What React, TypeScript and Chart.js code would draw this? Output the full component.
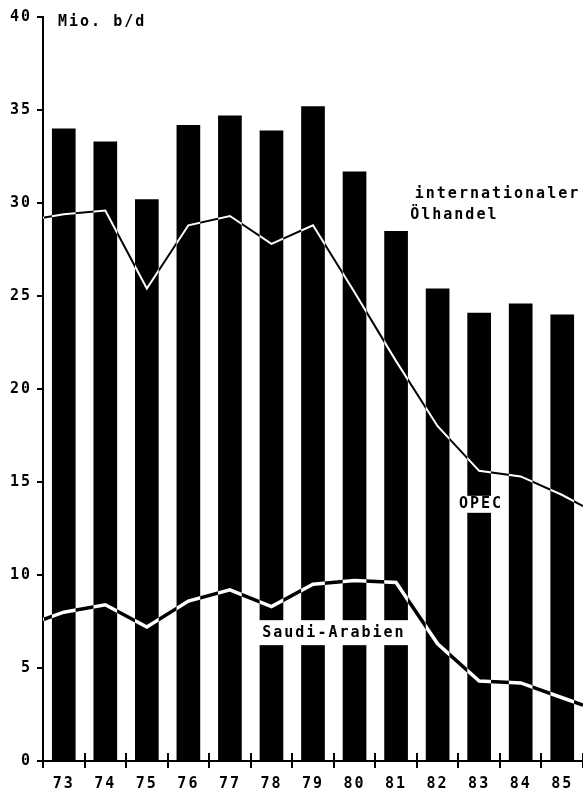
import React, { useEffect, useRef } from 'react';
import { Chart, registerables } from 'chart.js';

Chart.register(...registerables);

// ---- data ----
const YEARS = ['73', '74', '75', '76', '77', '78', '79', '80', '81', '82', '83', '84', '85'];
const TOTAL_TRADE = [34.0, 33.3, 30.2, 34.2, 34.7, 33.9, 35.2, 31.7, 28.5, 25.4, 24.1, 24.6, 24.0];
const OPEC = [29.4, 29.6, 25.4, 28.8, 29.3, 27.8, 28.8, 25.2, 21.5, 18.0, 15.6, 15.3, 14.3];
const OPEC_EDGES = [29.2, 13.7]; // value where the line meets the left / right frame
const SAUDI = [8.0, 8.4, 7.2, 8.6, 9.2, 8.3, 9.5, 9.7, 9.6, 6.3, 4.3, 4.2, 3.4];
const SAUDI_EDGES = [7.6, 3.0];
const Y_TICKS = [0, 5, 10, 15, 20, 25, 30, 35, 40];

const FONT_FAMILY = '"DejaVu Sans Mono", "Liberation Mono", monospace';

function lineSeries(values: number[], edges: number[]) {
  return [
    { x: -0.5, y: edges[0] },
    ...values.map((v, i) => ({ x: i, y: v })),
    { x: values.length - 0.5, y: edges[1] },
  ];
}

const inkPlugin = {
  id: 'ink',
  beforeDraw(chart: any) {
    const ctx = chart.ctx;
    ctx.save();
    ctx.globalCompositeOperation = 'source-over';
    ctx.fillStyle = '#ffffff';
    ctx.fillRect(0, 0, chart.width, chart.height);
    ctx.restore();
    ctx.letterSpacing = '2px';
  },
  beforeDatasetDraw(chart: any, args: any) {
    if (chart.data.datasets[args.index].type === 'line') {
      chart.ctx.globalCompositeOperation = 'difference';
    }
  },
  afterDatasetDraw(chart: any) {
    chart.ctx.globalCompositeOperation = 'source-over';
  },
  afterDraw(chart: any) {
    const ctx = chart.ctx;
    const xs = chart.scales.x;
    const ys = chart.scales.y;
    const xl = chart.scales.x2;
    const base = ys.getPixelForValue(0);
    ctx.save();
    ctx.globalCompositeOperation = 'source-over';
    ctx.letterSpacing = '2px';
    // upper half of the x-axis tick crosses
    ctx.strokeStyle = '#000';
    ctx.lineWidth = 2;
    for (let i = 0; i <= YEARS.length; i++) {
      const x = Math.round(xs.getPixelForValue(i - 0.5));
      ctx.beginPath();
      ctx.moveTo(x, base - 8);
      ctx.lineTo(x, base);
      ctx.stroke();
    }
    ctx.font = `bold 15px ${FONT_FAMILY}`;
    ctx.textBaseline = 'middle';
    ctx.fillStyle = '#000';
    // unit label
    ctx.textAlign = 'left';
    ctx.fillText('Mio. b/d', chart.chartArea.left + 15, ys.getPixelForValue(39.7));
    // total trade label
    ctx.fillText('internationaler', xl.getPixelForValue(8.45), ys.getPixelForValue(30.5));
    ctx.fillText('Ölhandel', xl.getPixelForValue(8.34), ys.getPixelForValue(29.35));

    const boxed = (text: string, cx: number, cy: number, w: number, h: number) => {
      ctx.fillStyle = '#fff';
      ctx.fillRect(cx - w / 2, cy - h / 2, w, h);
      ctx.fillStyle = '#000';
      ctx.textAlign = 'center';
      ctx.fillText(text, cx + 1, cy);
    };
    boxed('OPEC', xl.getPixelForValue(10.02), ys.getPixelForValue(13.8), 50, 17);
    boxed('Saudi-Arabien', xl.getPixelForValue(6.48), ys.getPixelForValue(6.9), 158, 25);
    ctx.restore();
  },
};

export default function App() {
  const ref = useRef<HTMLCanvasElement>(null);

  useEffect(() => {
    const canvas = ref.current;
    if (!canvas) return;
    const chart = new Chart(canvas, {
      type: 'bar',
      data: {
        labels: YEARS,
        datasets: [
          {
            type: 'bar',
            label: 'internationaler Ölhandel',
            data: TOTAL_TRADE,
            backgroundColor: '#000',
            borderWidth: 0,
            barPercentage: 0.57,
            categoryPercentage: 1,
            grouped: false,
            xAxisID: 'x',
            order: 2,
          } as any,
          {
            type: 'line',
            label: 'OPEC',
            data: lineSeries(OPEC, OPEC_EDGES),
            borderColor: '#fff',
            borderWidth: 2,
            pointRadius: 0,
            tension: 0,
            xAxisID: 'x2',
            order: 1,
          } as any,
          {
            type: 'line',
            label: 'Saudi-Arabien',
            data: lineSeries(SAUDI, SAUDI_EDGES),
            borderColor: '#fff',
            borderWidth: 3.5,
            pointRadius: 0,
            tension: 0,
            xAxisID: 'x2',
            order: 0,
          } as any,
        ],
      },
      plugins: [inkPlugin],
      options: {
        animation: false,
        responsive: true,
        maintainAspectRatio: false,
        layout: { padding: { top: 17, right: 0, left: 0, bottom: 0 } },
        plugins: {
          legend: { display: false },
          tooltip: { enabled: false },
          title: { display: false },
        },
        scales: {
          x: {
            type: 'category',
            offset: true,
            grid: {
              display: true,
              drawOnChartArea: false,
              drawTicks: true,
              tickLength: 7,
              offset: true,
              color: '#000',
              lineWidth: 2,
            },
            border: { display: true, color: '#000', width: 2 },
            ticks: {
              color: '#000',
              padding: 7,
              maxRotation: 0,
              autoSkip: false,
              font: { family: FONT_FAMILY, size: 15, weight: 'bold' },
            },
            afterFit: (scale: any) => {
              scale.height = 30;
            },
          },
          x2: {
            type: 'linear',
            display: false,
            offset: false,
            bounds: 'ticks',
            min: -0.5,
            max: YEARS.length - 0.5,
            grid: { offset: false },
          },
          y: {
            type: 'linear',
            min: 0,
            max: 40,
            afterBuildTicks: (scale: any) => {
              scale.ticks = Y_TICKS.map((v) => ({ value: v }));
            },
            grid: {
              display: true,
              drawOnChartArea: false,
              drawTicks: true,
              tickLength: 6,
              color: '#000',
              lineWidth: 2,
            },
            border: { display: true, color: '#000', width: 2 },
            ticks: {
              color: '#000',
              padding: 5,
              font: { family: FONT_FAMILY, size: 15, weight: 'bold' },
            },
            afterFit: (scale: any) => {
              scale.width = 43;
            },
          },
        },
      } as any,
    });
    return () => chart.destroy();
  }, []);

  return (
    <div style={{ position: 'absolute', left: 0, top: 0, width: 583, height: 791, background: '#fff' }}>
      <canvas ref={ref} />
    </div>
  );
}
